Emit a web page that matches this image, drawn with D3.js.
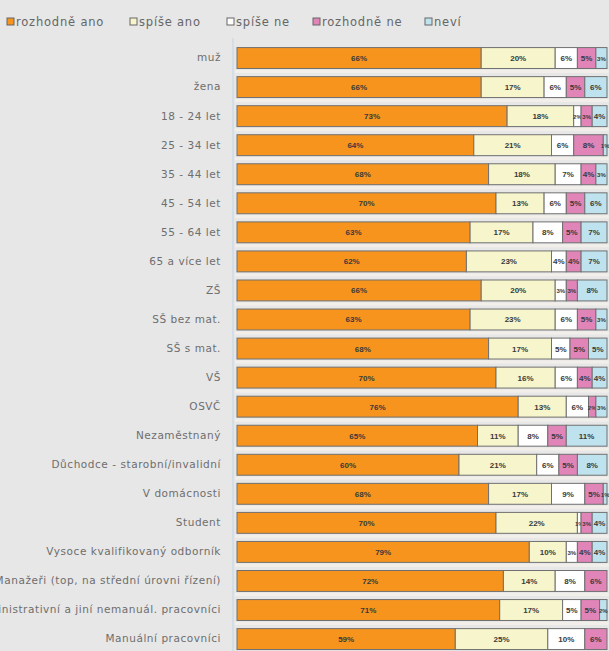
<!DOCTYPE html>
<html><head><meta charset="utf-8">
<script src="https://cdn.jsdelivr.net/npm/d3@7"></script>
<style>body{margin:0;background:#e7e7e7;}svg{display:block;}</style>
</head><body>
<svg id="c" width="609" height="651"></svg>
<script>
const categories = ["muž","žena","18 - 24 let","25 - 34 let","35 - 44 let","45 - 54 let","55 - 64 let","65 a více let","ZŠ","SŠ bez mat.","SŠ s mat.","VŠ","OSVČ","Nezaměstnaný","Důchodce - starobní/invalidní","V domácnosti","Student","Vysoce kvalifikovaný odborník","Manažeři (top, na střední úrovni řízení)","Administrativní a jiní nemanuál. pracovníci","Manuální pracovníci"];
const seriesNames = ["rozhodně ano","spíše ano","spíše ne","rozhodně ne","neví"];
const rozhodneAno = [66,66,73,64,68,70,63,62,66,63,68,70,76,65,60,68,70,79,72,71,59];
const spiseAno    = [20,17,18,21,18,13,17,23,20,23,17,16,13,11,21,17,22,10,14,17,25];
const spiseNe     = [6,6,2,6,7,6,8,4,3,6,5,6,6,8,6,9,1,3,8,5,10];
const rozhodneNe  = [5,5,3,8,4,5,5,4,3,5,5,4,2,5,5,5,3,4,6,5,6];
const nevi        = [3,6,4,1,3,6,7,7,8,3,5,4,3,11,8,1,4,4,0,2,0];
const colors = ["#f7941d","#f7f5cb","#ffffff","#e184b8","#bfe3ee"];

const series = [rozhodneAno, spiseAno, spiseNe, rozhodneNe, nevi];
const svg = d3.select("#c");
const FONT = "DejaVu Sans, Verdana, sans-serif";

const y = d3.scaleBand().domain(categories).range([43.5, 653.6]).paddingInner(0.28).paddingOuter(0.14);
const x = d3.scaleLinear().domain([0,100]).range([237, 607]);

// plot area border line
svg.append("line").attr("x1",233).attr("x2",233).attr("y1",38).attr("y2",651)
  .attr("stroke","#d3dee6").attr("stroke-width",2);

// light gap bands between bars
svg.append("g").selectAll("rect").data(categories).join("rect")
  .attr("x", 235).attr("width", 374)
  .attr("y", d => y(d) + y.bandwidth() + 1.5).attr("height", 3)
  .attr("fill", "#f2efeb");

const rows = categories.map((c,i) => {
  let acc = 0;
  return series.map((s,k) => { const seg = {cat:c, k, v:s[i], x0:acc}; acc += s[i]; return seg; });
});

const g = svg.append("g");
rows.forEach(row => {
  row.filter(d => d.v > 0).forEach(d => {
    g.append("rect").attr("x", x(d.x0)).attr("y", y(d.cat))
      .attr("width", x(d.x0 + d.v) - x(d.x0)).attr("height", y.bandwidth())
      .attr("fill", colors[d.k]).attr("stroke", "#707070").attr("stroke-width", 1);
    g.append("text").attr("x", (x(d.x0) + x(d.x0 + d.v)) / 2).attr("y", y(d.cat) + y.bandwidth()/2 + 3)
      .attr("text-anchor","middle").attr("font-family","Liberation Sans, Arial, sans-serif")
      .attr("font-size", d.v <= 3 ? 6 : 8).attr("font-weight","bold").attr("fill","#3a3a3a")
      .text(d.v + "%");
  });
});

// category axis
const yAxis = d3.axisLeft(y).tickSize(0).tickPadding(0);
const ax = svg.append("g").attr("transform","translate(221,0)").call(yAxis);
ax.select(".domain").remove();
ax.selectAll("text").attr("font-family",FONT).attr("font-size",10.5)
  .attr("letter-spacing","0.55px").attr("fill","#6e6e6e");

// legend
const legX = [7, 130, 227, 313, 425];
const leg = svg.append("g");
seriesNames.forEach((n,i) => {
  leg.append("rect").attr("x", legX[i]).attr("y", 18).attr("width", 7).attr("height", 7)
    .attr("fill", colors[i]).attr("stroke", "#666").attr("stroke-width", 1);
  leg.append("text").attr("x", legX[i] + 9).attr("y", 26)
    .attr("font-family",FONT).attr("font-size",11.5).attr("letter-spacing","0.8px").attr("fill","#666")
    .text(n);
});
</script>
</body></html>
